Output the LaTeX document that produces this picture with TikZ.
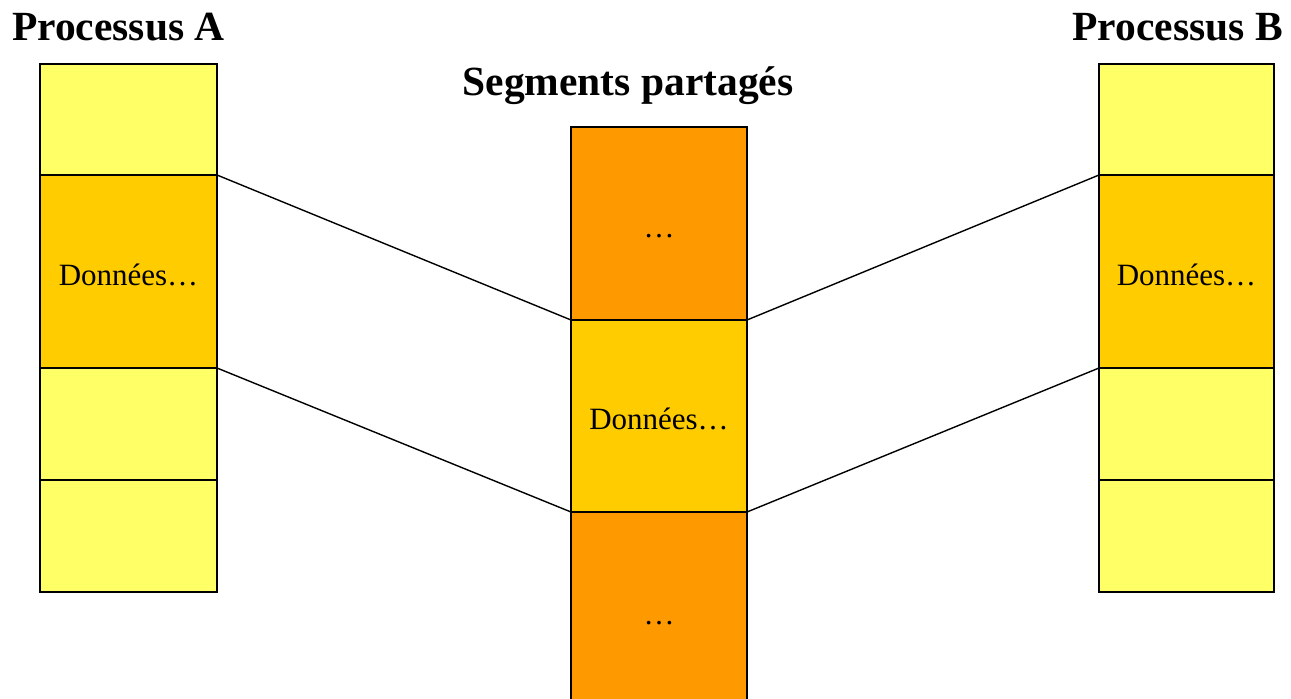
\documentclass[tikz,border=0pt]{standalone}
\usepackage{fontspec}
\setmainfont{Liberation Serif}
\definecolor{segpale}{HTML}{FFFF66}
\definecolor{segdata}{HTML}{FFCC00}
\definecolor{segshared}{HTML}{FF9900}
\tikzset{
  seg/.style={draw=black, line width=2.2pt, rectangle, inner sep=0pt, outer sep=0pt,
    font=\fontsize{31}{37}\selectfont, text height=30pt, text depth=3pt},
  colA/.style={seg, minimum width=177pt},
  colB/.style={seg, minimum width=175pt},
  colM/.style={seg, minimum width=176pt},
  heading/.style={inner sep=0pt, font=\fontsize{41.5}{50}\selectfont\bfseries},
  link/.style={draw=black, line width=1.4pt}
}
\begin{document}
\begin{tikzpicture}[x=1pt,y=-1pt]
\useasboundingbox (0,0) rectangle (1291,699);

% headings
\node[heading, anchor=base west] (hA) at (12,40) {Processus A};
\node[heading, anchor=base east] (hB) at (1283,40) {Processus B};
\node[heading, anchor=base] (hM) at (628,95) {Segments partagés};

% process A memory
\node[colA, fill=segpale, minimum height=111pt] (a1) at (128.5,119.5) {};
\node[colA, fill=segdata, minimum height=193pt] (a2) at (128.5,271.5) {Données…};
\node[colA, fill=segpale, minimum height=112pt] (a3) at (128.5,424) {};
\node[colA, fill=segpale, minimum height=112pt] (a4) at (128.5,536) {};

% process B memory
\node[colB, fill=segpale, minimum height=111pt] (b1) at (1186.5,119.5) {};
\node[colB, fill=segdata, minimum height=193pt] (b2) at (1186.5,271.5) {Données…};
\node[colB, fill=segpale, minimum height=112pt] (b3) at (1186.5,424) {};
\node[colB, fill=segpale, minimum height=112pt] (b4) at (1186.5,536) {};

% shared segments
\node[colM, fill=segshared, minimum height=193pt] (m1) at (659,223.5) {…};
\node[colM, fill=segdata, minimum height=192pt] (m2) at (659,416) {Données…};
\node[colM, fill=segshared, minimum height=198pt] (m3) at (659,611) {…};

% mappings
\draw[link] (a2.north east) -- (m2.north west);
\draw[link] (a2.south east) -- (m2.south west);
\draw[link] (m2.north east) -- (b2.north west);
\draw[link] (m2.south east) -- (b2.south west);
\end{tikzpicture}
\end{document}
